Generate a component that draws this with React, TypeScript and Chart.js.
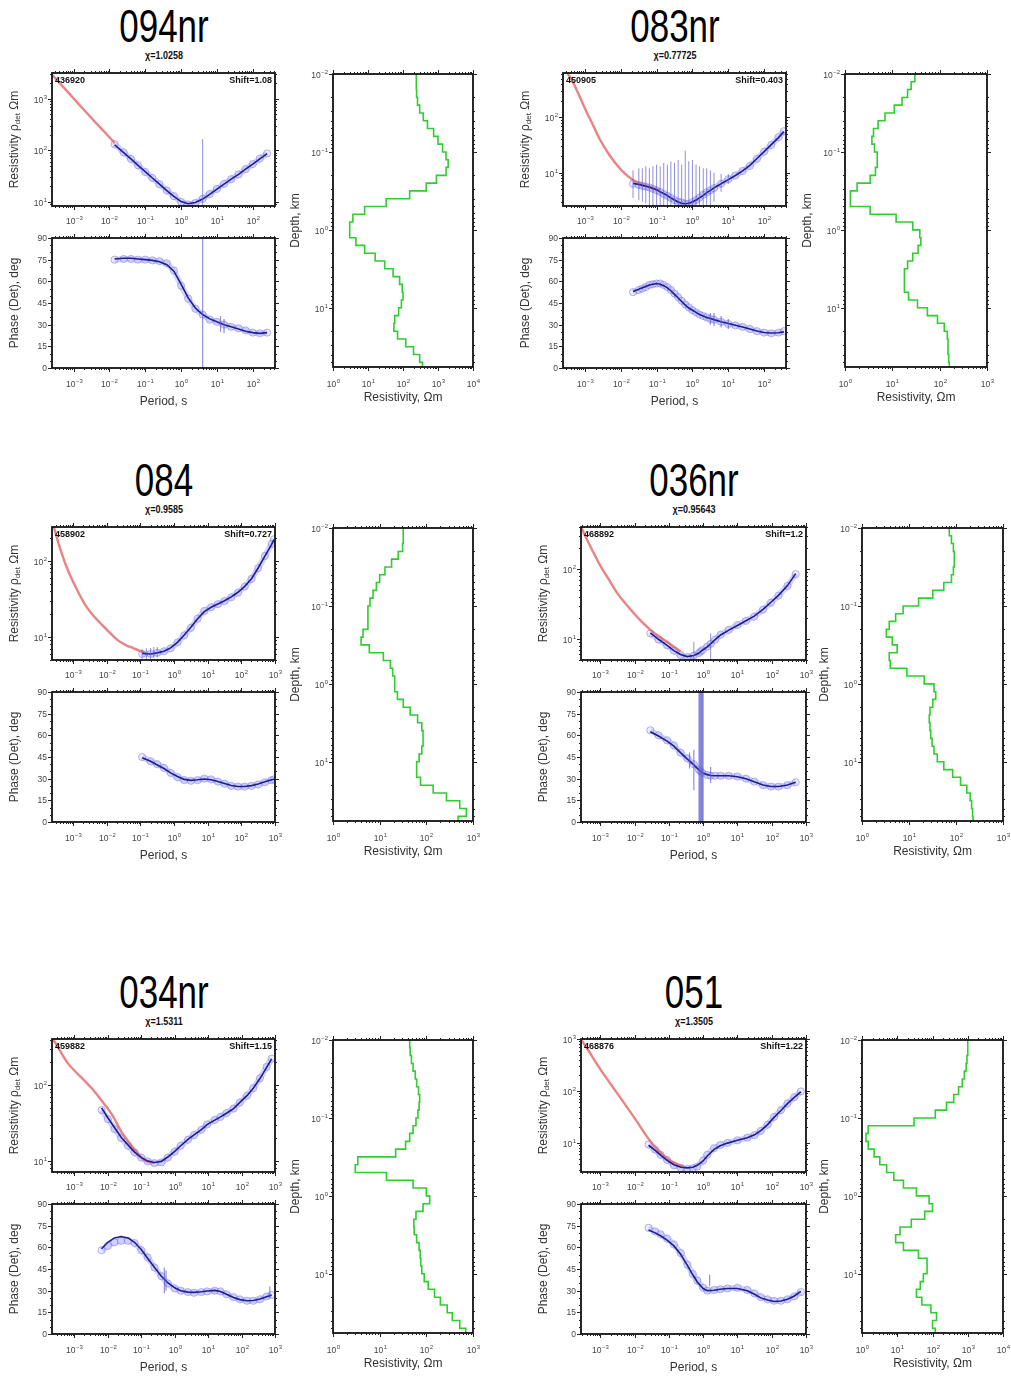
import React, { useEffect, useRef } from 'react';
import { Chart, registerables } from 'chart.js';

Chart.register(...registerables);

const SANS = '"Liberation Sans", Arial, Helvetica, sans-serif';

/* ---------- shared layer boundaries of the 1-D models (km) ---------- */
const DEPTH_BOUNDS = [0.01, 0.0126, 0.0158, 0.02, 0.0251, 0.0316, 0.0398, 0.0501, 0.0631, 0.0794,
  0.1, 0.126, 0.158, 0.2, 0.251, 0.316, 0.398, 0.501, 0.631, 0.794,
  1, 1.26, 1.58, 2, 2.51, 3.16, 3.98, 5.01, 6.31, 7.94,
  10, 12.6, 15.8, 20, 25.1, 31.6, 39.8, 50.1, 63.1];

/* ---------- 094nr ---------- */
const T_094 = [0.014, 0.025, 0.04, 0.063, 0.1, 0.158, 0.25, 0.4, 0.63, 1, 1.58, 2.5, 4, 6.3, 10, 15.8, 25, 40, 63, 100, 158, 251];
const RHO_094 = [132, 91, 68, 51, 38, 29, 22, 16.6, 12.9, 10, 8.9, 9.5, 11.5, 14.1, 17.8, 22.4, 27.5, 34, 43, 54, 69, 87];
const RHOFIT_094 = [128, 90, 68, 51, 38.5, 29, 22, 16.5, 12.7, 10.1, 9.2, 9.7, 11.3, 14, 17.6, 22, 27.5, 34, 43, 54, 68, 86];
const PHI_094 = [75, 75.5, 75.5, 75, 75, 74.5, 74, 72.5, 67.5, 57, 48, 41, 37, 33.5, 32, 30, 28.5, 27.5, 26, 24.5, 24, 24.5];
const PHIFIT_094 = [75.5, 76, 76, 75.5, 75, 74.5, 73.5, 71.5, 67, 58, 48.5, 41.5, 37, 34, 32, 30, 28.5, 27, 25.5, 24.5, 24, 24.5];
const REDT_094 = [0.00025, 0.0005, 0.001, 0.002, 0.004, 0.0079, 0.0141];
const RED_094 = [2950, 1740, 1020, 600, 355, 214, 138];
const RESBAR_094 = [[4, 0.5, 165]];
const PHIBAR_094 = [[4, 0, 90], [12.6, 25, 36], [15.8, 24, 34]];
const MODEL_094 = [240, 240, 245, 260, 300, 380, 500, 750, 1000, 1350, 1700, 1950, 1700, 900, 460, 155, 33, 8, 3.7, 3.0,
  3.0, 4.5, 8, 16, 30, 52, 80, 95, 100, 90, 75, 58, 55, 70, 120, 200, 300, 360];

/* ---------- 083nr ---------- */
const T_083 = [0.022, 0.032, 0.04, 0.05, 0.063, 0.079, 0.1, 0.126, 0.158, 0.2, 0.25, 0.316, 0.4, 0.5, 0.63, 0.79, 1, 1.26, 1.58, 2, 2.5, 3.16, 4, 6.3, 10, 15.8, 25, 40, 63, 100, 158, 251, 355];
const RHO_083 = [6.3, 6.0, 5.75, 5.6, 5.4, 5.1, 4.8, 4.5, 4.1, 3.8, 3.5, 3.2, 3.0, 2.9, 2.75, 2.75, 2.95, 3.2, 3.55, 4.0, 4.4, 4.8, 5.25, 6.3, 7.6, 8.9, 10.7, 13.2, 17.8, 24, 31.6, 43.6, 56];
const RHOFIT_083 = [6.4, 6.1, 5.9, 5.7, 5.5, 5.2, 4.9, 4.5, 4.2, 3.85, 3.5, 3.2, 2.95, 2.8, 2.75, 2.8, 2.95, 3.2, 3.5, 3.9, 4.35, 4.8, 5.3, 6.3, 7.5, 8.9, 10.8, 13.5, 18, 24, 32, 43, 55];
const PHI_083 = [52.5, 54, 55, 56, 57.5, 58, 58.5, 58.5, 57.5, 56, 54, 51.5, 49, 46.5, 44, 42, 40, 38.5, 37, 36, 35, 34, 33.5, 32, 30.5, 29.5, 28.5, 27, 25.5, 24.5, 24, 24.5, 25.5];
const PHIFIT_083 = [53, 54.5, 55.5, 56.5, 57.5, 58, 58.5, 58, 57, 55.5, 53.5, 51, 48.5, 46, 43.5, 41.5, 40, 38.5, 37, 36, 35, 34.2, 33.5, 32, 30.8, 29.6, 28.4, 27, 25.6, 24.6, 24.2, 24.4, 25];
const REDT_083 = [0.00028, 0.00043, 0.00063, 0.0011, 0.00158, 0.0026, 0.00447, 0.0076, 0.0126, 0.022, 0.05, 0.12];
const RED_083 = [708, 479, 282, 126, 79, 40, 22.4, 14.1, 9.8, 7.4, 5.75, 4.8];
const RESBAR_083 = [[0.022, 3.5, 11], [0.032, 3.2, 12], [0.04, 3.0, 12], [0.05, 2.8, 13], [0.063, 2.6, 12],
  [0.079, 2.4, 13], [0.1, 2.2, 14], [0.126, 2.0, 13], [0.158, 1.8, 15], [0.2, 1.5, 14], [0.25, 1.4, 16],
  [0.316, 1.2, 15], [0.4, 1.1, 17], [0.5, 1.0, 14], [0.63, 0.9, 25], [0.79, 0.9, 16], [1, 1.0, 17],
  [1.26, 1.1, 14], [1.58, 1.3, 13], [2, 1.6, 12], [2.5, 2.0, 12], [3.16, 2.5, 11], [4, 3.0, 10],
  [6.3, 4.5, 9.5], [10, 6.3, 9.5]];
const PHIBAR_083 = [[3.16, 30, 38], [4, 29, 38], [6.3, 28, 36], [10, 27, 34]];
const MODEL_083 = [30, 25, 21, 16, 11, 7, 5, 4, 3.7, 4.2, 4.8, 4.8, 4.4, 3.4, 1.8, 1.3, 1.3, 3.4, 12, 27,
  38, 40, 35, 27, 21, 18, 18, 18, 22, 34, 55, 90, 125, 145, 150, 150, 155, 160];

/* ---------- 084 ---------- */
const T_084 = [0.112, 0.2, 0.316, 0.5, 0.79, 1.26, 2, 3.16, 5, 7.9, 12.6, 20, 31.6, 50, 79, 126, 200, 316, 501, 794, 933];
const RHO_084 = [6.0, 6.0, 6.2, 6.5, 7.1, 8.5, 10.5, 13.2, 17.4, 21.9, 24.5, 26.9, 29.5, 33.1, 38, 45.7, 57.5, 79.4, 115, 166, 190];
const RHOFIT_084 = [6.1, 6.0, 6.2, 6.5, 7.2, 8.5, 10.6, 13.4, 17.3, 21.5, 24.5, 27, 29.8, 33.5, 38.5, 46, 58, 80, 114, 163, 188];
const PHI_084 = [45, 42, 40, 37.5, 34, 31, 29, 28.5, 29, 30, 29.5, 28, 26.5, 25, 24.5, 24.5, 25, 26, 27.5, 29, 29.5];
const PHIFIT_084 = [44.5, 42, 39.5, 37, 34, 31.5, 29.5, 28.8, 29.2, 29.8, 29.3, 28, 26.6, 25.3, 24.6, 24.6, 25.2, 26.3, 27.8, 29.2, 29.6];
const REDT_084 = [0.00023, 0.000316, 0.00045, 0.0007, 0.00126, 0.0022, 0.004, 0.0068, 0.0126, 0.021, 0.0355, 0.063, 0.126];
const RED_084 = [350, 209, 126, 74, 42.7, 27, 19, 14.8, 11.2, 9.1, 7.9, 7.1, 6.3];
const RESBAR_084 = [[0.112, 5.2, 7.0], [0.15, 5.1, 7.1], [0.2, 5.2, 7.2], [0.25, 5.3, 7.4], [0.316, 5.4, 7.4]];
const PHIBAR_084: number[][] = [];
const MODEL_084 = [32, 32, 31, 25, 18, 13, 10, 8.5, 7.2, 6.2, 5.6, 5.6, 5.6, 4.4, 4.0, 6, 12, 17, 19, 21,
  21, 24, 32, 45, 65, 80, 85, 85, 80, 70, 62, 62, 75, 140, 270, 520, 720, 480];

/* ---------- 036nr ---------- */
const T_036 = [0.029, 0.05, 0.089, 0.141, 0.219, 0.347, 0.537, 0.76, 0.85, 0.95, 1.32, 1.66, 2.24, 3.24, 5.6, 10, 17.8, 30.9, 56, 95, 158, 288, 501];
const RHO_036 = [12.0, 9.8, 8.1, 6.8, 5.9, 5.5, 5.8, 6.3, 6.6, 6.9, 7.8, 8.5, 9.8, 11.5, 13.5, 15.8, 18.2, 20.9, 26.3, 33.1, 41.7, 57.5, 85];
const RHOFIT_036 = [12.2, 9.9, 8.1, 6.8, 6.0, 5.6, 5.8, 6.3, 6.6, 6.9, 7.7, 8.5, 9.8, 11.4, 13.4, 15.6, 18.2, 21.2, 26.5, 33.5, 42, 58, 86];
const PHI_036 = [63.5, 60, 56.5, 53, 48, 44, 40, 36, 35, 34, 32.5, 32, 32, 32, 32, 31.5, 30, 28, 25.5, 24.5, 24.5, 25.5, 27.5];
const PHIFIT_036 = [62.5, 59.5, 56, 52.5, 48, 43.5, 39.5, 36, 35, 34, 32.8, 32.2, 32, 32, 32, 31.3, 30, 27.8, 25.6, 24.6, 24.6, 25.6, 27.6];
const REDT_036 = [0.00028, 0.00036, 0.00063, 0.001, 0.00178, 0.0031, 0.0056, 0.0095, 0.0158, 0.029, 0.05, 0.089, 0.22];
const RED_036 = [398, 302, 174, 112, 71, 45.7, 31.6, 23.4, 17.8, 13.5, 11, 9.1, 6.6];
const RESBAR_036 = [[0.537, 5.0, 9.1], [1.66, 5.0, 12.0]];
const PHIBAR_036 = [[0.4, 37, 48], [0.537, 22, 50], [0.76, 0, 90], [0.8, 0, 90], [0.85, 0, 90], [0.9, 0, 90],
  [0.95, 0, 90], [1.0, 0, 90], [1.66, 27, 38]];
const MODEL_036 = [72, 80, 88, 92, 92, 88, 80, 55, 32, 16, 7.5, 5.2, 3.8, 3.3, 4.4, 5.6, 3.8, 4.0, 9, 21,
  34, 37, 32, 28, 27, 28, 29, 31, 34, 40, 55, 85, 125, 170, 200, 215, 225, 230];

/* ---------- 034nr ---------- */
const T_034 = [0.0065, 0.01, 0.0158, 0.025, 0.04, 0.063, 0.1, 0.155, 0.25, 0.4, 0.62, 1, 1.51, 2.5, 3.8, 6.3, 9.3, 15.8, 23.4, 35.5, 57.5, 89, 145, 224, 355, 562, 794];
const RHO_034 = [46.8, 35.5, 26.3, 20, 15.8, 12.9, 11, 9.8, 9.3, 9.5, 11, 13.2, 15.8, 19, 21.9, 25.7, 30.2, 34.7, 38, 42.7, 49, 58.9, 72.4, 91.2, 123, 174, 224];
const RHOFIT_034 = [50, 37, 27.5, 20.5, 16.2, 13, 11, 9.9, 9.5, 9.8, 11.2, 13.3, 15.8, 19.2, 22, 25.8, 30, 34.5, 38, 42.5, 49, 59, 72.5, 91, 122, 172, 222];
const PHI_034 = [58, 61, 63.5, 64.5, 64.5, 63, 58, 53, 46, 40, 35, 31.5, 30, 29, 28.5, 29, 29.5, 30, 29.5, 27.5, 25.5, 24, 23, 23, 24, 26, 27];
const PHIFIT_034 = [59, 63.5, 66.5, 67.5, 66.5, 63.5, 58.5, 52.5, 46, 40, 35.5, 32, 30, 29, 28.8, 29.2, 29.8, 30.2, 29.4, 27.5, 25.3, 23.8, 23, 23.2, 24.2, 25.8, 27];
const REDT_034 = [0.00021, 0.00027, 0.0004, 0.00066, 0.00112, 0.0021, 0.0033, 0.0051, 0.0079, 0.0129, 0.0178, 0.025, 0.04, 0.063, 0.089, 0.126, 0.245];
const RED_034 = [417, 363, 269, 191, 148, 112, 91, 72, 56, 41.7, 32.4, 24.5, 18.2, 14.1, 11.7, 10.2, 9.3];
const RESBAR_034: number[][] = [];
const PHIBAR_034 = [[0.49, 28, 46], [0.55, 30, 44], [700, 25, 33]];
const MODEL_034 = [44, 45, 48, 52, 58, 62, 68, 72, 70, 66, 60, 52, 44, 36, 22, 3.4, 3.0, 14, 52, 100,
  118, 85, 60, 54, 55, 62, 70, 74, 76, 80, 90, 110, 150, 200, 280, 360, 520, 700];

/* ---------- 051 ---------- */
const T_051 = [0.0257, 0.04, 0.0575, 0.089, 0.141, 0.224, 0.347, 0.5, 0.676, 1, 1.32, 2.09, 3.16, 5.13, 10, 19.5, 31.6, 47.9, 75.9, 117, 186, 288, 457, 708];
const RHO_051 = [9.3, 7.4, 5.9, 4.7, 3.7, 3.3, 3.16, 3.24, 3.47, 4.57, 5.9, 7.9, 9.1, 10, 11.2, 12.6, 14.1, 17, 22.4, 31.6, 42.7, 57.5, 75.9, 97.7];
const RHOFIT_051 = [9.0, 7.2, 5.8, 4.6, 3.8, 3.4, 3.3, 3.4, 3.7, 4.5, 5.6, 7.5, 8.8, 9.9, 11.2, 12.6, 14.3, 17.2, 22.5, 31, 42, 57, 75, 96];
const PHI_051 = [73.5, 71, 69, 66, 62, 56, 48, 41.5, 37, 32, 30, 30.5, 31, 31.5, 32, 30.5, 28, 25.5, 24, 23, 23, 24, 26, 29];
const PHIFIT_051 = [72, 70, 68, 65, 61, 55, 47.5, 41, 36, 31.5, 30, 30.3, 31, 31.5, 31.5, 30, 27.5, 25, 23.5, 22.5, 22.8, 24, 26.3, 29.5];
const REDT_051 = [0.00028, 0.00036, 0.001, 0.0031, 0.0095, 0.029, 0.05, 0.089, 0.158, 0.275];
const RED_051 = [955, 759, 263, 91, 31.6, 10.7, 7.1, 5.0, 4.0, 3.47];
const RESBAR_051: number[][] = [];
const PHIBAR_051 = [[1.55, 33, 41]];
const MODEL_051 = [1000, 1000, 950, 900, 800, 700, 550, 400, 250, 120, 30, 1.5, 1.3, 1.5, 2.2, 3.2, 5, 8, 15, 35,
  80, 100, 60, 25, 12, 9, 15, 40, 70, 70, 55, 45, 35, 50, 90, 130, 100, 120];

/* ---------- panel table ---------- */
interface PanelDef {
  name: string; chi: string; station: string; shift: string;
  T: number[]; rho: number[]; rhoFit: number[]; phi: number[]; phiFit: number[];
  redT: number[]; red: number[]; resBars: number[][]; phiBars: number[][]; model: number[];
  xMin: number; xMax: number; resMin: number; resMax: number; modMax: number;
}

const PANELS: PanelDef[] = [
  { name: '094nr', chi: '1.0258', station: '436920', shift: '1.08', T: T_094, rho: RHO_094, rhoFit: RHOFIT_094,
    phi: PHI_094, phiFit: PHIFIT_094, redT: REDT_094, red: RED_094, resBars: RESBAR_094, phiBars: PHIBAR_094,
    model: MODEL_094, xMin: 0.000251, xMax: 417, resMin: 8.3, resMax: 3162, modMax: 10000 },
  { name: '083nr', chi: '0.77725', station: '450905', shift: '0.403', T: T_083, rho: RHO_083, rhoFit: RHOFIT_083,
    phi: PHI_083, phiFit: PHIFIT_083, redT: REDT_083, red: RED_083, resBars: RESBAR_083, phiBars: PHIBAR_083,
    model: MODEL_083, xMin: 0.000245, xMax: 407, resMin: 2.5, resMax: 630, modMax: 1000 },
  { name: '084', chi: '0.9585', station: '458902', shift: '0.727', T: T_084, rho: RHO_084, rhoFit: RHOFIT_084,
    phi: PHI_084, phiFit: PHIFIT_084, redT: REDT_084, red: RED_084, resBars: RESBAR_084, phiBars: PHIBAR_084,
    model: MODEL_084, xMin: 0.000234, xMax: 1000, resMin: 5.0, resMax: 275, modMax: 1000 },
  { name: '036nr', chi: '0.95643', station: '468892', shift: '1.2', T: T_036, rho: RHO_036, rhoFit: RHOFIT_036,
    phi: PHI_036, phiFit: PHIFIT_036, redT: REDT_036, red: RED_036, resBars: RESBAR_036, phiBars: PHIBAR_036,
    model: MODEL_036, xMin: 0.000275, xMax: 1000, resMin: 5.0, resMax: 400, modMax: 1000 },
  { name: '034nr', chi: '1.5311', station: '459882', shift: '1.15', T: T_034, rho: RHO_034, rhoFit: RHOFIT_034,
    phi: PHI_034, phiFit: PHIFIT_034, redT: REDT_034, red: RED_034, resBars: RESBAR_034, phiBars: PHIBAR_034,
    model: MODEL_034, xMin: 0.000214, xMax: 1000, resMin: 7.1, resMax: 407, modMax: 1000 },
  { name: '051', chi: '1.3505', station: '468876', shift: '1.22', T: T_051, rho: RHO_051, rhoFit: RHOFIT_051,
    phi: PHI_051, phiFit: PHIFIT_051, redT: REDT_051, red: RED_051, resBars: RESBAR_051, phiBars: PHIBAR_051,
    model: MODEL_051, xMin: 0.000275, xMax: 1000, resMin: 2.75, resMax: 1000, modMax: 10000 },
];

/* ---------- page layout (pixels) ---------- */
const ROW_TOP = [0, 454, 966];
const LAYOUT = [
  { resL: 52, resR: 275, modL: 333, modR: 473, row: 0 },
  { resL: 563, resR: 786, modL: 845, modR: 987, row: 0 },
  { resL: 52, resR: 275, modL: 333, modR: 473, row: 1 },
  { resL: 581, resR: 806, modL: 862, modR: 1003, row: 1 },
  { resL: 52, resR: 275, modL: 333, modR: 473, row: 2 },
  { resL: 581, resR: 806, modL: 862, modR: 1003, row: 2 },
];

/* ---------- dataset builders ---------- */
const pts = (xs: number[], ys: number[]) => xs.map((x, i) => ({ x, y: ys[i] }));

const fitDs = (xs: number[], ys: number[]) => ({
  data: pts(xs, ys), showLine: true, borderColor: 'rgb(30,30,140)', borderWidth: 1.6,
  pointRadius: 0, clip: 0, order: 0,
});
const redDs = (xs: number[], ys: number[]) => ({
  data: pts(xs, ys), showLine: true, borderColor: 'rgba(230,100,100,0.8)', borderWidth: 2.4,
  pointRadius: 0, clip: 0, order: 1, cubicInterpolationMode: 'monotone',
});
const obsDs = (xs: number[], ys: number[]) => ({
  data: pts(xs, ys), showLine: true, borderColor: 'rgba(140,140,255,0.38)', borderWidth: 6,
  pointRadius: 3.6, pointBorderWidth: 1, pointBorderColor: 'rgba(110,110,235,0.5)',
  pointBackgroundColor: 'rgba(195,195,255,0.3)', clip: 0, order: 2,
});
const modelDs = (rho: number[]) => ({
  data: [...rho.map((r, i) => ({ x: r, y: DEPTH_BOUNDS[i] })),
    { x: rho[rho.length - 1], y: DEPTH_BOUNDS[rho.length] }],
  showLine: true, stepped: 'after', borderColor: 'rgb(48,205,48)', borderWidth: 1.6,
  pointRadius: 0, clip: 0, order: 0,
});

/* ---------- plot spec & decoration plugin ---------- */
interface Spec {
  left: number; top: number; width: number; height: number;
  pad: [number, number, number, number];
  xMin: number; xMax: number; yLog: boolean; yMin: number; yMax: number; yReverse?: boolean;
  datasets: any[];
  bars?: number[][]; barWidth?: number;
  xTitle?: string; yTitle?: string; rhoTitle?: boolean;
  cornerL?: string; cornerR?: string;
  xLabelDy: number; xTitleDy?: number;
}

const LBL = 8.5;
const EXP = 6;

function drawPow(ctx: CanvasRenderingContext2D, e: number, x: number, y: number, align: 'center' | 'right') {
  const es = e < 0 ? '\u2212' + (-e) : String(e);
  ctx.font = `${LBL}px ${SANS}`;
  const w1 = ctx.measureText('10').width;
  ctx.font = `${EXP}px ${SANS}`;
  const w2 = ctx.measureText(es).width;
  const tot = w1 + w2 + 0.5;
  const sx = align === 'center' ? x - tot / 2 : x - tot;
  ctx.textAlign = 'left';
  ctx.textBaseline = 'middle';
  ctx.font = `${LBL}px ${SANS}`;
  ctx.fillText('10', sx, y);
  ctx.font = `${EXP}px ${SANS}`;
  ctx.fillText(es, sx + w1 + 0.5, y - 3.5);
}

function logVals(min: number, max: number) {
  const out: { v: number; major: boolean; e: number }[] = [];
  const e0 = Math.floor(Math.log10(min) + 1e-9);
  const e1 = Math.ceil(Math.log10(max) - 1e-9);
  for (let e = e0; e <= e1; e++) {
    for (let k = 1; k < 10; k++) {
      const v = k * Math.pow(10, e);
      if (v >= min * 0.9999 && v <= max * 1.0001) out.push({ v, major: k === 1, e });
    }
  }
  return out;
}

function makeDecor(s: Spec) {
  return {
    id: 'decor',
    afterDatasetsDraw(chart: any) {
      const ctx: CanvasRenderingContext2D = chart.ctx;
      const a = chart.chartArea;
      const xs = chart.scales.x;
      const ys = chart.scales.y;
      const seg = (x1: number, y1: number, x2: number, y2: number) => {
        ctx.beginPath(); ctx.moveTo(x1, y1); ctx.lineTo(x2, y2); ctx.stroke();
      };
      ctx.save();
      if (s.bars && s.bars.length) {
        ctx.save();
        ctx.beginPath();
        ctx.rect(a.left, a.top, a.right - a.left, a.bottom - a.top);
        ctx.clip();
        ctx.strokeStyle = 'rgba(95,95,210,0.7)';
        ctx.lineWidth = s.barWidth || 1;
        for (const [t, lo, hi] of s.bars) {
          const px = xs.getPixelForValue(t);
          seg(px, ys.getPixelForValue(lo), px, ys.getPixelForValue(hi));
        }
        ctx.restore();
      }
      ctx.strokeStyle = '#111';
      ctx.lineWidth = 1.8;
      ctx.strokeRect(a.left, a.top, a.right - a.left, a.bottom - a.top);
      ctx.strokeStyle = '#222';
      ctx.lineWidth = 1;
      ctx.fillStyle = '#444';
      for (const t of logVals(s.xMin, s.xMax)) {
        const px = Math.round(xs.getPixelForValue(t.v)) + 0.5;
        const L = t.major ? 4 : 2;
        seg(px, a.bottom, px, a.bottom + L);
        seg(px, a.top, px, a.top - L);
        if (t.major) drawPow(ctx, t.e, px, a.bottom + s.xLabelDy, 'center');
      }
      if (s.yLog) {
        for (const t of logVals(s.yMin, s.yMax)) {
          const py = Math.round(ys.getPixelForValue(t.v)) + 0.5;
          const L = t.major ? 4 : 2;
          seg(a.left, py, a.left - L, py);
          seg(a.right, py, a.right + L, py);
          if (t.major) drawPow(ctx, t.e, a.left - 5, py + 1, 'right');
        }
      } else {
        for (let v = s.yMin; v <= s.yMax; v += 5) {
          const py = Math.round(ys.getPixelForValue(v)) + 0.5;
          const major = v % 15 === 0;
          const L = major ? 4 : 2;
          seg(a.left, py, a.left - L, py);
          seg(a.right, py, a.right + L, py);
          if (major) {
            ctx.font = `${LBL}px ${SANS}`;
            ctx.textAlign = 'right';
            ctx.textBaseline = 'middle';
            ctx.fillText(String(v), a.left - 5, py);
          }
        }
      }
      ctx.fillStyle = '#333';
      if (s.xTitle) {
        ctx.font = `12px ${SANS}`;
        ctx.textAlign = 'center';
        ctx.textBaseline = 'middle';
        ctx.fillText(s.xTitle, (a.left + a.right) / 2, a.bottom + (s.xTitleDy || 30));
      }
      if (s.yTitle || s.rhoTitle) {
        ctx.save();
        ctx.translate(a.left - 37, (a.top + a.bottom) / 2);
        ctx.rotate(-Math.PI / 2);
        ctx.textBaseline = 'middle';
        if (s.rhoTitle) {
          const p1 = 'Resistivity \u03c1', p2 = 'det', p3 = ' \u03a9m';
          ctx.font = `12px ${SANS}`;
          const w1 = ctx.measureText(p1).width;
          const w3 = ctx.measureText(p3).width;
          ctx.font = `8px ${SANS}`;
          const w2 = ctx.measureText(p2).width;
          const sx = -(w1 + w2 + w3) / 2;
          ctx.textAlign = 'left';
          ctx.font = `12px ${SANS}`;
          ctx.fillText(p1, sx, 0);
          ctx.font = `8px ${SANS}`;
          ctx.fillText(p2, sx + w1, 3);
          ctx.font = `12px ${SANS}`;
          ctx.fillText(p3, sx + w1 + w2, 0);
        } else if (s.yTitle) {
          ctx.font = `12px ${SANS}`;
          ctx.textAlign = 'center';
          ctx.fillText(s.yTitle, 0, 0);
        }
        ctx.restore();
      }
      ctx.fillStyle = '#111';
      ctx.font = `bold 9px ${SANS}`;
      ctx.textBaseline = 'top';
      if (s.cornerL) { ctx.textAlign = 'left'; ctx.fillText(s.cornerL, a.left + 3, a.top + 3); }
      if (s.cornerR) { ctx.textAlign = 'right'; ctx.fillText(s.cornerR, a.right - 3, a.top + 3); }
      ctx.restore();
    },
  };
}

function Plot({ spec }: { spec: Spec }) {
  const ref = useRef<HTMLCanvasElement>(null);
  const [pl, pt, pr, pb] = spec.pad;
  const W = spec.width + pl + pr;
  const H = spec.height + pt + pb;
  useEffect(() => {
    if (!ref.current) return;
    const chart = new Chart(ref.current, {
      type: 'scatter',
      data: { datasets: spec.datasets },
      options: {
        animation: false,
        responsive: false,
        devicePixelRatio: 1,
        events: [],
        layout: { padding: { left: pl, top: pt, right: pr, bottom: pb } },
        plugins: { legend: { display: false }, tooltip: { enabled: false } },
        scales: {
          x: { type: 'logarithmic', min: spec.xMin, max: spec.xMax, display: false, bounds: 'data' },
          y: {
            type: spec.yLog ? 'logarithmic' : 'linear', min: spec.yMin, max: spec.yMax,
            reverse: !!spec.yReverse, display: false, bounds: 'data',
          },
        },
      } as any,
      plugins: [makeDecor(spec)],
    });
    return () => chart.destroy();
  }, []);
  return (
    <canvas
      ref={ref}
      width={W}
      height={H}
      style={{ position: 'absolute', left: spec.left - pl, top: spec.top - pt, width: W, height: H }}
    />
  );
}

function buildSpecs(p: PanelDef, L: typeof LAYOUT[number]): Spec[] {
  const off = ROW_TOP[L.row];
  const w = L.resR - L.resL;
  const res: Spec = {
    left: L.resL, top: 73 + off, width: w, height: 133, pad: [52, 10, 10, 28],
    xMin: p.xMin, xMax: p.xMax, yLog: true, yMin: p.resMin, yMax: p.resMax,
    datasets: [fitDs(p.T, p.rhoFit), redDs(p.redT, p.red), obsDs(p.T, p.rho)],
    bars: p.resBars, rhoTitle: true, cornerL: p.station, cornerR: 'Shift=' + p.shift, xLabelDy: 16,
  };
  const ph: Spec = {
    left: L.resL, top: 238 + off, width: w, height: 130, pad: [52, 10, 10, 46],
    xMin: p.xMin, xMax: p.xMax, yLog: false, yMin: 0, yMax: 90,
    datasets: [fitDs(p.T, p.phiFit), obsDs(p.T, p.phi)],
    bars: p.phiBars, barWidth: 1.2, yTitle: 'Phase (Det), deg', xTitle: 'Period, s', xLabelDy: 17, xTitleDy: 34,
  };
  const mod: Spec = {
    left: L.modL, top: 74 + off, width: L.modR - L.modL, height: 293, pad: [52, 10, 14, 40],
    xMin: 1, xMax: p.modMax, yLog: true, yMin: 0.01, yMax: 57.5, yReverse: true,
    datasets: [modelDs(p.model)],
    yTitle: 'Depth, km', xTitle: 'Resistivity, \u03a9m', xLabelDy: 18, xTitleDy: 31,
  };
  return [res, ph, mod];
}

export default function App() {
  return (
    <div style={{ position: 'absolute', left: 0, top: 0, width: 1011, height: 1377, background: '#fff', overflow: 'hidden' }}>
      {PANELS.map((p, i) => {
        const L = LAYOUT[i];
        const off = ROW_TOP[L.row];
        const cx = (L.resL + L.resR) / 2;
        const specs = buildSpecs(p, L);
        return (
          <React.Fragment key={p.name}>
            <div style={{
              position: 'absolute', left: cx - 100, width: 200, top: 3 + off, height: 46,
              textAlign: 'center', font: `46px ${SANS}`, lineHeight: '46px', color: '#000',
              transform: 'scaleX(0.76)', whiteSpace: 'nowrap',
            }}>{p.name}</div>
            <div style={{
              position: 'absolute', left: cx - 60, width: 120, top: 50 + off, height: 12,
              textAlign: 'center', font: `bold 10px ${SANS}`, lineHeight: '12px', color: '#111',
              whiteSpace: 'nowrap', transform: 'scaleX(0.9)',
            }}>{'\u03c7=' + p.chi}</div>
            {specs.map((s, j) => <Plot key={j} spec={s} />)}
          </React.Fragment>
        );
      })}
    </div>
  );
}
